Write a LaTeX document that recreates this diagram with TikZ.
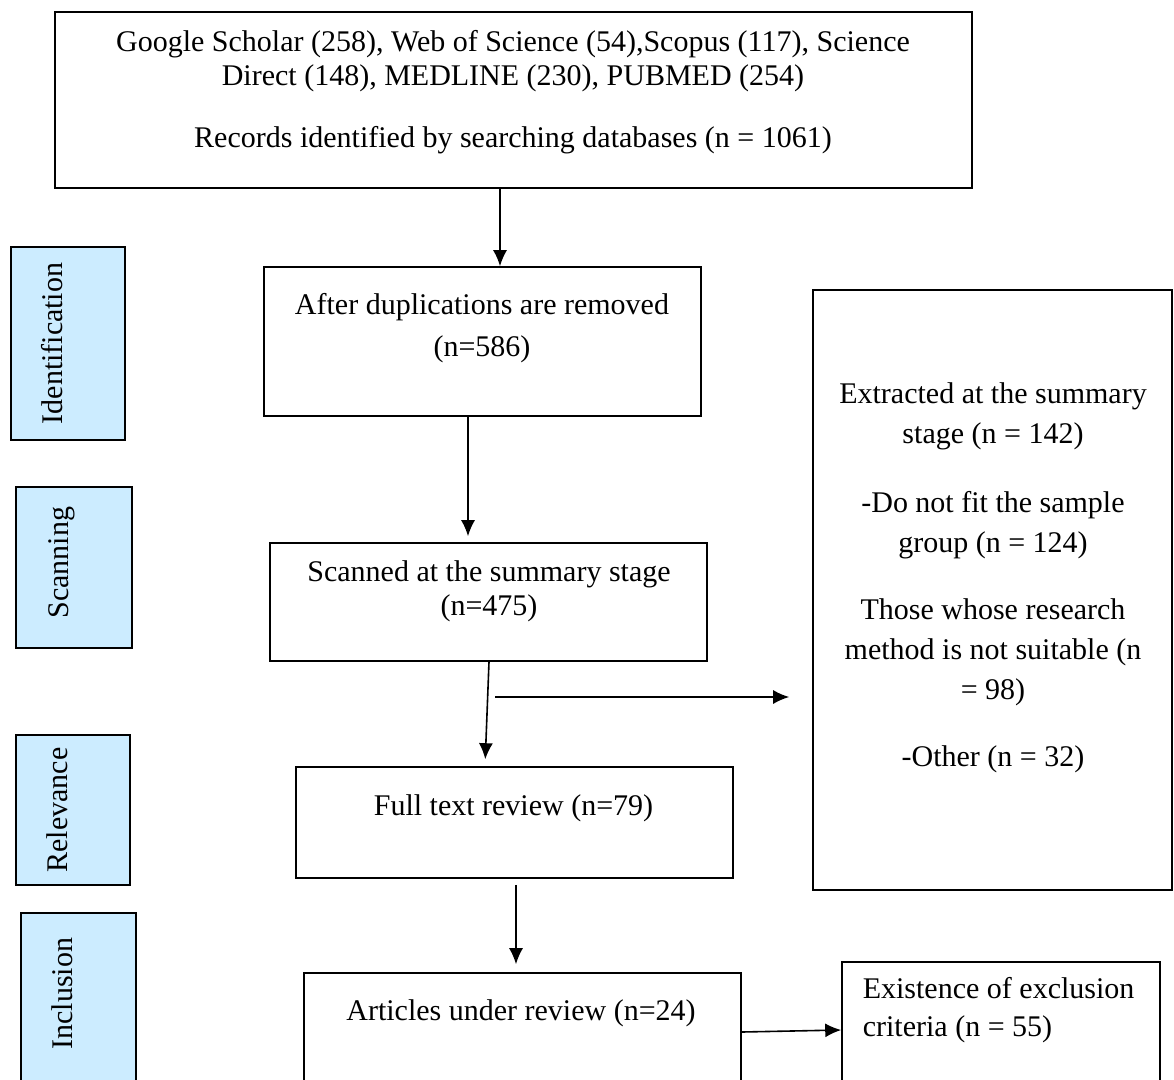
\documentclass[tikz,border=0pt]{standalone}
\usepackage{fontspec}
\setmainfont{Liberation Serif}
\usepackage{xcolor}
\usepackage{tikz}
\usetikzlibrary{arrows.meta}
\definecolor{stageblue}{RGB}{204,236,255}

\begin{document}
\begin{tikzpicture}[
  x=1pt, y=-1pt,
  font=\fontsize{30}{34.5}\selectfont,
  line width=1.6pt,
  box/.style={draw, fill=white, inner sep=0pt},
  stage/.style={draw, fill=stageblue, inner sep=0pt},
  txt/.style={align=center, inner sep=0pt},
  stagetxt/.style={rotate=90, anchor=base, inner sep=0pt},
  arr/.style={-{Latex[length=16pt, width=14pt]}}
]
\useasboundingbox (0,0) rectangle (1174,1079);
\clip (0,0) rectangle (1174,1079);

\node[box, minimum width=917pt, minimum height=176pt] (search) at (513.5,100) {};
\node[txt] (searchtext) at (513,92) {Google Scholar (258), Web of Science (54),Scopus (117), Science\\Direct (148), MEDLINE (230), PUBMED (254)\\[27.5pt]Records identified by searching databases (n = 1061)};

\node[box, minimum width=437pt, minimum height=149pt] (dedup) at (482.5,341.5) {};
\node[txt] (deduptext) at (482,328) {After duplications are removed\\[7.5pt](n=586)};

\node[box, minimum width=437pt, minimum height=118pt] (screen) at (488.5,602) {};
\node[txt] (screentext) at (489,591.5) {Scanned at the summary stage\\(n=475)};

\node[box, minimum width=437pt, minimum height=111pt] (fulltext) at (514.5,822.5) {};
\node[txt] (fulltexttext) at (513.5,808) {Full text review (n=79)};

\node[box, minimum width=437pt, minimum height=127pt] (review) at (522.5,1036.5) {};
\node[txt] (reviewtext) at (521,1013) {Articles under review (n=24)};

\node[box, minimum width=318pt, minimum height=138pt] (excl) at (1001,1031) {};
\node[txt, align=left, anchor=west] (excltext) at (862,1010) {Existence of exclusion\\[3.5pt]criteria (n = 55)};

\node[box, minimum width=359pt, minimum height=600pt] (removed) at (992.5,590) {};
\node[txt, font=\fontsize{30}{40}\selectfont] (removedtext) at (993,577.5) {Extracted at the summary\\stage (n = 142)\\[29pt]-Do not fit the sample\\group (n = 124)\\[27pt]Those whose research\\method is not suitable (n\\= 98)\\[27pt]-Other (n = 32)};

\node[stage, minimum width=114pt, minimum height=193pt] (ident) at (68,343.5) {};
\node[stagetxt] (identtext) at ([xshift=-6pt]ident.center) {Identification};
\node[stage, minimum width=116pt, minimum height=161pt] (scan) at (74,567.5) {};
\node[stagetxt] (scantext) at ([xshift=-6pt, yshift=5pt]scan.center) {Scanning};
\node[stage, minimum width=114pt, minimum height=150pt] (relev) at (73,810) {};
\node[stagetxt] (relevtext) at ([xshift=-6pt]relev.center) {Relevance};
\node[stage, minimum width=115pt, minimum height=187pt] (incl) at (78.5,1006.5) {};
\node[stagetxt] (incltext) at (72.5,993.5) {Inclusion};

\draw[arr] ([xshift=-13.5pt]search.south) -- ([xshift=17.5pt]dedup.north);
\draw[arr, shorten >=6pt] ([xshift=-14.5pt]dedup.south) -- ([xshift=-20.5pt]screen.north);
\draw[arr, shorten >=7pt] ([xshift=0.5pt]screen.south) -- ([xshift=-29.5pt]fulltext.north);
\coordinate (split) at (495,697);
\draw[arr, shorten >=23pt] (split) -- (split -| removed.west);
\draw[arr, shorten <=6pt, shorten >=8pt] ([xshift=1.5pt]fulltext.south) -- ([xshift=-6.5pt]review.north);
\draw[arr] ([yshift=4.5pt]review.east) -- ([yshift=1pt]excl.west);
\end{tikzpicture}
\end{document}
